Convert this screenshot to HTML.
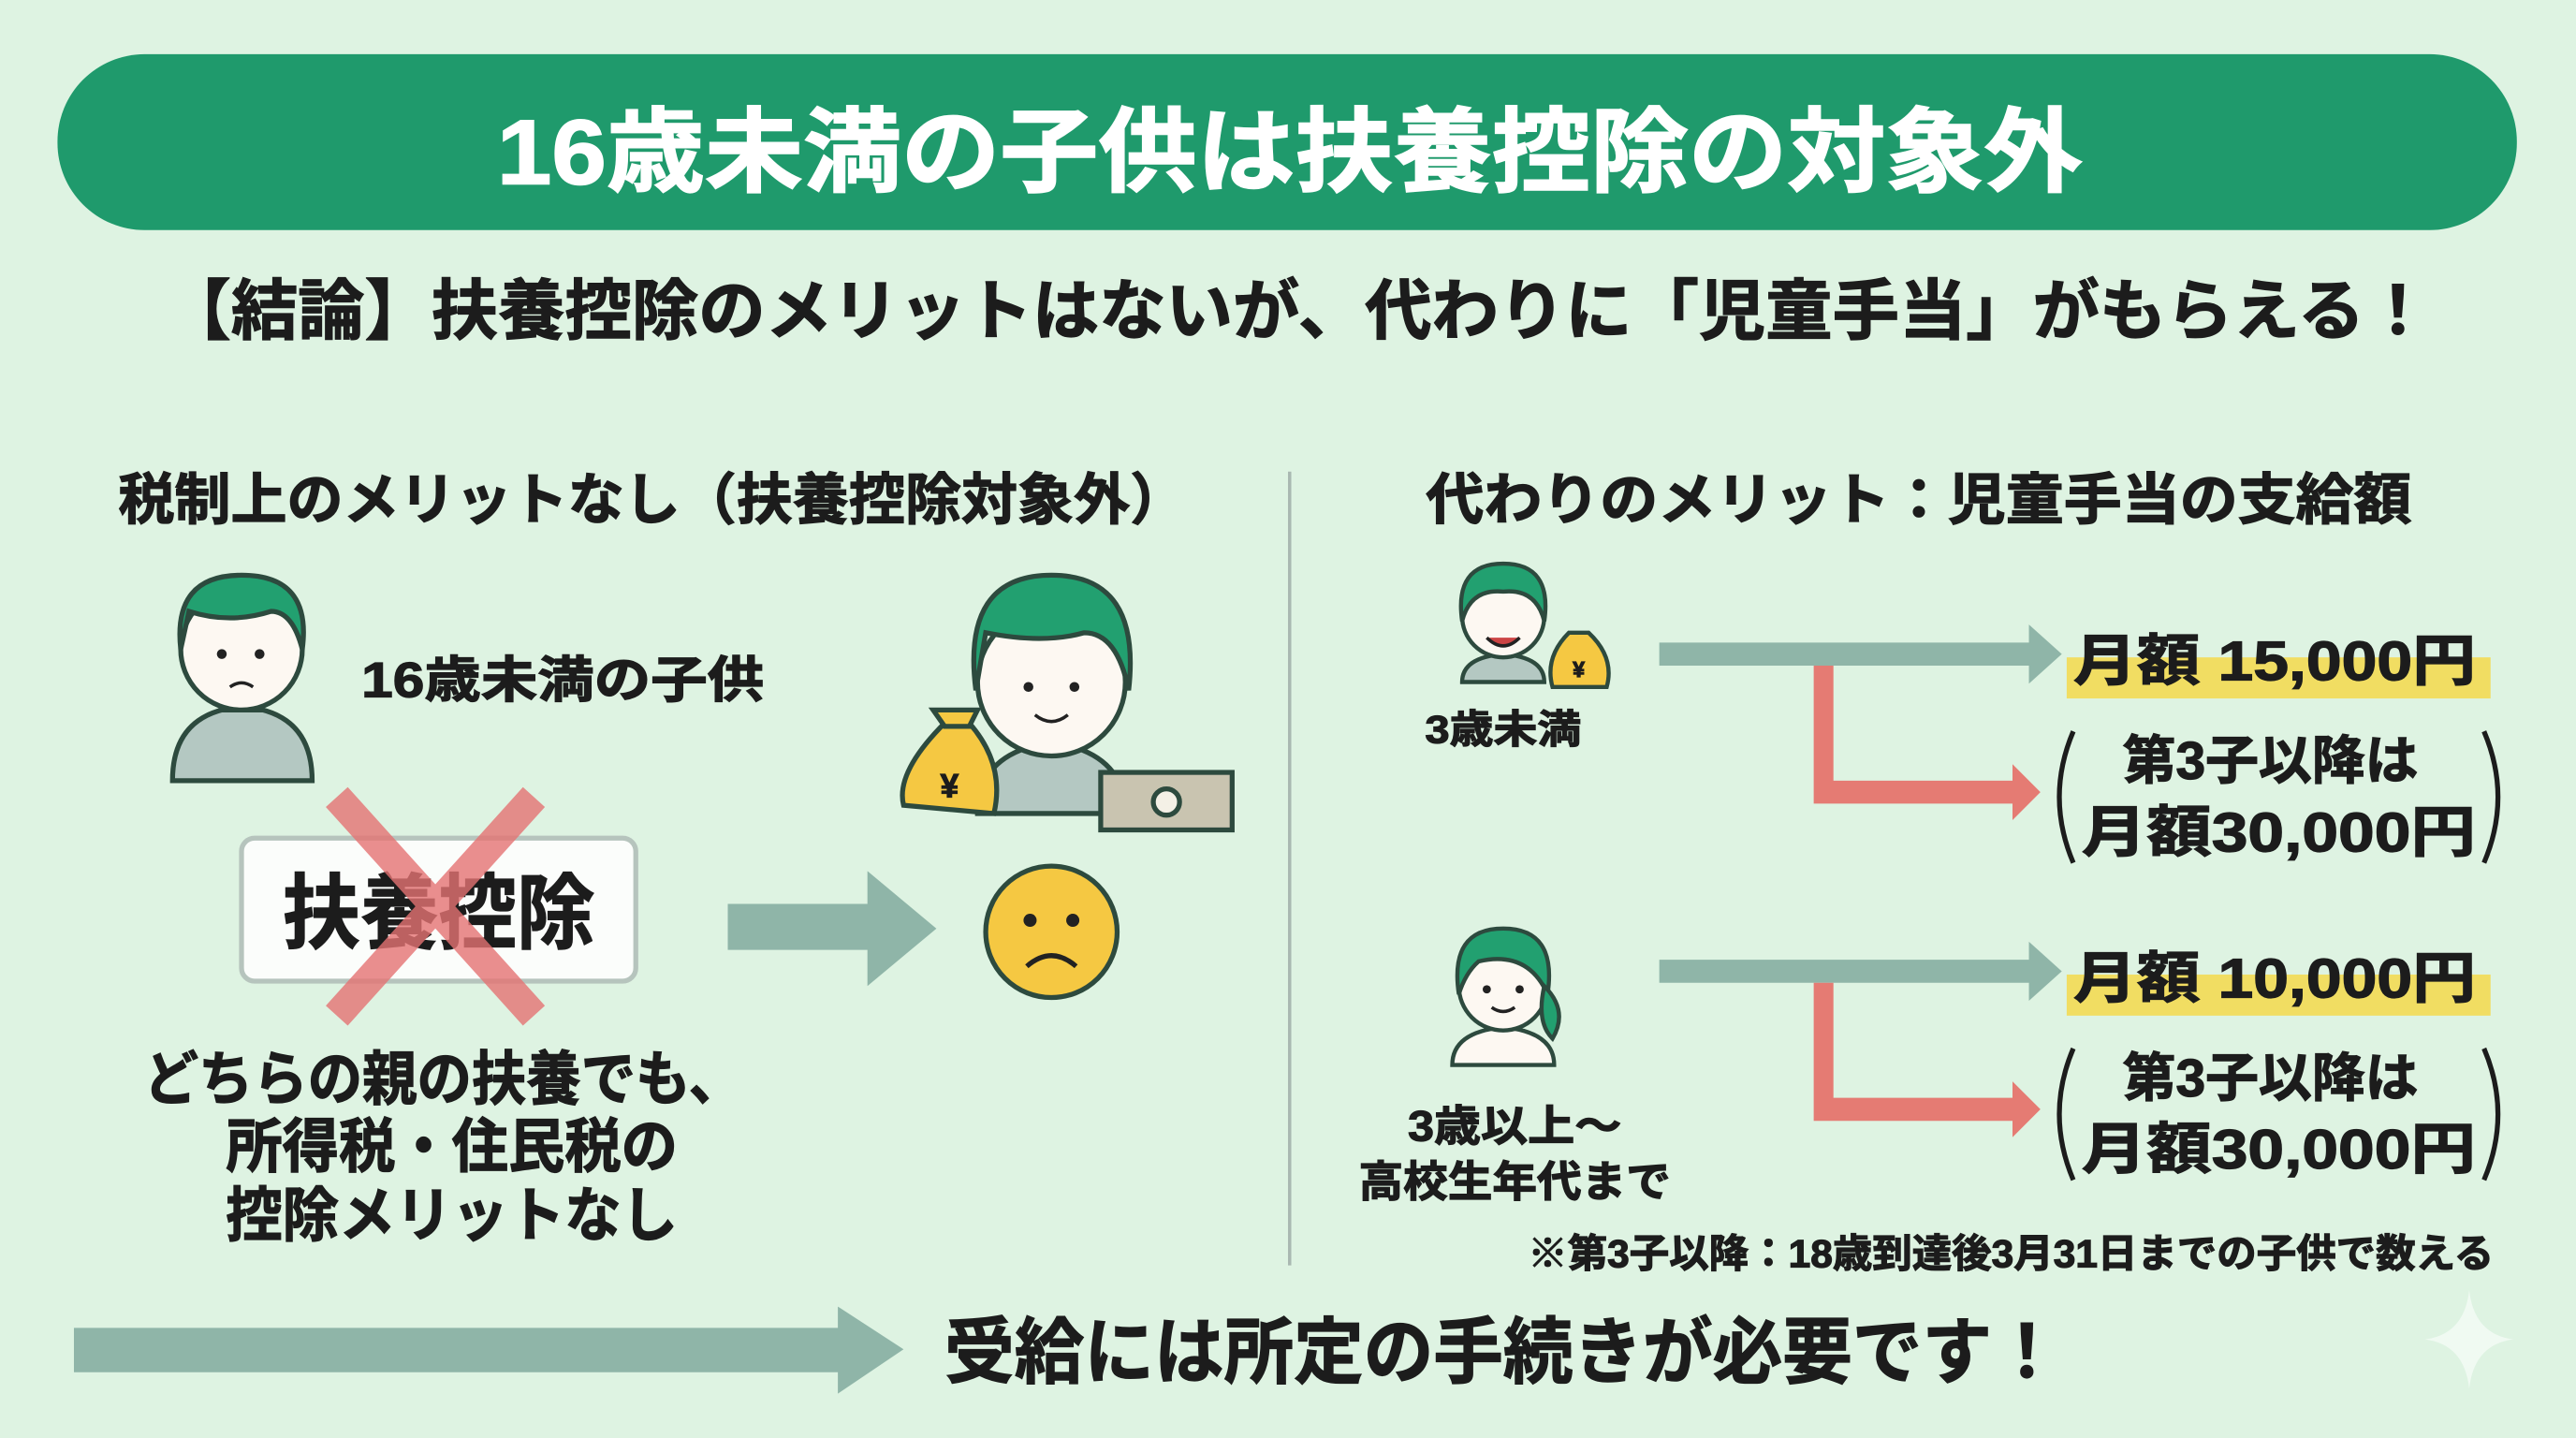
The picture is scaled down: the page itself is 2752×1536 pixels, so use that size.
<!DOCTYPE html>
<html><head><meta charset="utf-8"><style>
html,body{margin:0;padding:0;background:#def3e2}
svg{display:block}
text{font-family:"Liberation Sans","Noto Sans CJK JP",sans-serif;font-weight:bold;fill:#1c1c1c;stroke:#1c1c1c;stroke-width:0.7px;paint-order:stroke}
</style></head><body>
<svg width="2752" height="1536" viewBox="0 0 1568 875" preserveAspectRatio="none" xmlns="http://www.w3.org/2000/svg">
<rect width="1568" height="875" fill="#def3e2"/>
<rect x="35" y="33" width="1497" height="107" rx="53" fill="#1f9a6c"/>
<text x="785" y="112" font-size="56" text-anchor="middle" style="fill:#fff;stroke:#fff;stroke-width:0.9px" textLength="965" lengthAdjust="spacingAndGlyphs">16歳未満の子供は扶養控除の対象外</text>
<text x="100" y="203" font-size="40" textLength="1380" lengthAdjust="spacingAndGlyphs">【結論】扶養控除のメリットはないが、代わりに「児童手当」がもらえる！</text>
<text x="72" y="316" font-size="34" textLength="650" lengthAdjust="spacingAndGlyphs">税制上のメリットなし（扶養控除対象外）</text>
<text x="868" y="316" font-size="34" textLength="600" lengthAdjust="spacingAndGlyphs">代わりのメリット：児童手当の支給額</text>
<line x1="785" y1="287" x2="785" y2="770" stroke="#a9b8b1" stroke-width="2"/>

<!-- left child -->
<g stroke="#2d4a3e" stroke-width="3">
<path d="M105 475 Q105 440 135 432 L160 432 Q190 440 190 475 Z" fill="#b4c8c2"/>
<circle cx="147" cy="395" r="37" fill="#fdf8f2"/>
<path d="M110 395 Q105 350 147 350 Q190 350 184 395 Q178 372 165 372 Q140 380 115 372 Z" fill="#22a070"/>
</g>
<circle cx="135" cy="398" r="3" fill="#222"/><circle cx="158" cy="398" r="3" fill="#222"/>
<path d="M140 418 Q147 413 154 418" stroke="#222" stroke-width="2" fill="none"/>
<text x="220" y="424" font-size="30" textLength="245" lengthAdjust="spacingAndGlyphs">16歳未満の子供</text>

<!-- right child with money -->
<g stroke="#2d4a3e" stroke-width="3">
<path d="M595 495 Q595 465 625 455 L655 455 Q685 465 685 495 Z" fill="#b4c8c2"/>
<circle cx="640" cy="415" r="45" fill="#fdf8f2"/>
<path d="M594 420 Q585 350 640 350 Q695 350 687 420 Q680 385 660 385 Q635 392 600 385 Z" fill="#22a070"/>
<rect x="670" y="470" width="80" height="35" fill="#c9c4b0"/>
<circle cx="710" cy="488" r="8" fill="#f4f0e6"/>
<path d="M575 440 Q545 470 550 490 L605 495 Q612 465 590 440 Z" fill="#f5c842"/>
<path d="M568 432 L595 432 L590 442 L575 442 Z" fill="#f5c842"/>
</g>
<text x="578" y="485" font-size="20" text-anchor="middle">¥</text>
<circle cx="626" cy="418" r="3" fill="#222"/><circle cx="654" cy="418" r="3" fill="#222"/>
<path d="M630 435 Q640 443 650 435" stroke="#222" stroke-width="2" fill="none"/>

<!-- 扶養控除 box -->
<rect x="147" y="510" width="240" height="87" rx="8" fill="#fbfdfb" stroke="#b6c4bd" stroke-width="3"/>
<text x="267" y="573" font-size="50" text-anchor="middle" textLength="190" lengthAdjust="spacingAndGlyphs">扶養控除</text>
<g stroke="#e57373" stroke-width="18" opacity="0.8"><line x1="205" y1="485" x2="325" y2="618"/><line x1="325" y1="485" x2="205" y2="618"/></g>

<!-- arrow -->
<path d="M443 550 L528 550 L528 530 L570 565 L528 600 L528 578 L443 578 Z" fill="#8fb5a8"/>
<circle cx="640" cy="567" r="40" fill="#f5c842" stroke="#2d4a3e" stroke-width="3"/>
<circle cx="627" cy="560" r="4" fill="#222"/><circle cx="653" cy="560" r="4" fill="#222"/>
<path d="M625 588 Q640 575 655 588" stroke="#222" stroke-width="3" fill="none"/>

<text x="270" y="669" font-size="36" text-anchor="middle" textLength="365" lengthAdjust="spacingAndGlyphs">どちらの親の扶養でも、</text>
<text x="275" y="710" font-size="36" text-anchor="middle" textLength="275" lengthAdjust="spacingAndGlyphs">所得税・住民税の</text>
<text x="275" y="752" font-size="36" text-anchor="middle" textLength="275" lengthAdjust="spacingAndGlyphs">控除メリットなし</text>

<!-- right group 1 -->
<g stroke="#2d4a3e" stroke-width="2.5">
<path d="M890 415 Q890 400 915 398 Q940 400 940 415 Z" fill="#b4c8c2"/>
<circle cx="915" cy="375" r="25" fill="#fdf8f2"/>
<path d="M890 378 Q885 343 915 343 Q945 343 940 378 Q935 358 915 360 Q895 358 890 378 Z" fill="#22a070"/>
<path d="M955 385 Q940 400 945 418 L978 418 Q983 400 967 385 Z" fill="#f5c842"/>
</g>
<path d="M905 388 Q915 398 925 388" stroke="#222" stroke-width="2" fill="#c44"/>
<text x="961" y="412" font-size="13" text-anchor="middle">¥</text>
<text x="915" y="452" font-size="24" text-anchor="middle" textLength="95" lengthAdjust="spacingAndGlyphs">3歳未満</text>

<g id="arr">
<path d="M1010 391 L1235 391 L1235 380 L1255 398 L1235 416 L1235 405 L1010 405 Z" fill="#8fb5a8"/>
<path d="M1104 405 L1116 405 L1116 475 L1225 475 L1225 465 L1242 482 L1225 499 L1225 489 L1104 489 Z" fill="#e57b73"/>
</g>
<rect x="1258" y="400" width="258" height="25" fill="#f5d742" opacity="0.8"/>
<text x="1262" y="414" font-size="34" textLength="245" lengthAdjust="spacingAndGlyphs">月額 15,000円</text>
<text x="1382" y="474" font-size="32" text-anchor="middle" textLength="180" lengthAdjust="spacingAndGlyphs">第3子以降は</text>
<text x="1387" y="518" font-size="34" text-anchor="middle" textLength="240" lengthAdjust="spacingAndGlyphs">月額30,000円</text>
<path d="M1262 445 Q1245 485 1262 525" stroke="#1c1c1c" stroke-width="3" fill="none"/>
<path d="M1512 445 Q1529 485 1512 525" stroke="#1c1c1c" stroke-width="3" fill="none"/>

<!-- right group 2 -->
<g stroke="#2d4a3e" stroke-width="2.5">
<path d="M884 648 Q884 628 915 625 Q946 628 946 648 Z" fill="#fdf8f2"/>
<circle cx="915" cy="600" r="27" fill="#fdf8f2"/>
<path d="M888 605 Q882 565 915 565 Q948 565 942 605 Q930 578 900 585 Q892 592 888 605 Z" fill="#22a070"/>
<path d="M940 600 Q955 615 945 632 Q935 622 940 600 Z" fill="#22a070"/>
</g>
<circle cx="905" cy="602" r="2.5" fill="#222"/><circle cx="925" cy="602" r="2.5" fill="#222"/>
<path d="M908 613 Q915 618 922 613" stroke="#222" stroke-width="2" fill="none"/>
<text x="922" y="694" font-size="26" text-anchor="middle" textLength="130" lengthAdjust="spacingAndGlyphs">3歳以上～</text>
<text x="922" y="728" font-size="26" text-anchor="middle" textLength="190" lengthAdjust="spacingAndGlyphs">高校生年代まで</text>
<use href="#arr" transform="translate(0,193)"/>
<rect x="1258" y="593" width="258" height="25" fill="#f5d742" opacity="0.8"/>
<text x="1262" y="607" font-size="34" textLength="245" lengthAdjust="spacingAndGlyphs">月額 10,000円</text>
<text x="1382" y="667" font-size="32" text-anchor="middle" textLength="180" lengthAdjust="spacingAndGlyphs">第3子以降は</text>
<text x="1387" y="711" font-size="34" text-anchor="middle" textLength="240" lengthAdjust="spacingAndGlyphs">月額30,000円</text>
<path d="M1262 638 Q1245 678 1262 718" stroke="#1c1c1c" stroke-width="3" fill="none"/>
<path d="M1512 638 Q1529 678 1512 718" stroke="#1c1c1c" stroke-width="3" fill="none"/>
<text x="930" y="771" font-size="24" textLength="588" lengthAdjust="spacingAndGlyphs">※第3子以降：18歳到達後3月31日までの子供で数える</text>

<!-- bottom -->
<path d="M45 808 L510 808 L510 795 L550 821 L510 848 L510 835 L45 835 Z" fill="#8fb5a8"/>
<text x="575" y="838" font-size="44" textLength="680" lengthAdjust="spacingAndGlyphs">受給には所定の手続きが必要です！</text>
<path d="M1503 785 Q1506 812 1530 815 Q1506 818 1503 845 Q1500 818 1476 815 Q1500 812 1503 785 Z" fill="#f4fbf6" opacity="0.8"/>
</svg>
</body></html>
